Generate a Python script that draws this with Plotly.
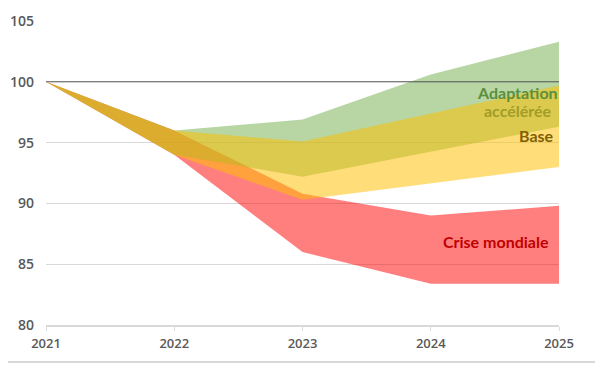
import plotly.graph_objects as go

years = [2021, 2022, 2023, 2024, 2025]
adapt_low = [100, 94.0, 92.2, 94.25, 96.3]
adapt_high = [100, 96.0, 96.9, 100.6, 103.3]
base_low = [100, 94.0, 90.3, 91.65, 93.0]
base_high = [100, 96.0, 95.1, 97.4, 99.7]
crise_low = [100, 94.0, 86.0, 83.4, 83.4]
crise_high = [100, 96.0, 90.8, 89.0, 89.8]

y_ticks = [80, 85, 90, 95, 100, 105]
x_ticks = [2021, 2022, 2023, 2024, 2025]

bands = [
    ("Crise mondiale", crise_low, crise_high, "rgba(255,0,0,0.5)"),
    ("Adaptation accélérée", adapt_low, adapt_high, "rgba(112,173,71,0.5)"),
    ("Base", base_low, base_high, "rgba(255,192,0,0.52)"),
]

fig = go.Figure()
for name, lo, hi, col in bands:
    fig.add_trace(go.Scatter(x=years, y=lo, mode="lines",
                             line=dict(width=0, color="rgba(0,0,0,0)"),
                             showlegend=False, hoverinfo="skip"))
    fig.add_trace(go.Scatter(x=years, y=hi, mode="lines", fill="tonexty",
                             fillcolor=col, line=dict(width=0, color="rgba(0,0,0,0)"),
                             name=name, showlegend=False))

tick_font = dict(family="Open Sans, sans-serif", size=13, color="#595959", weight=600)

fig.update_layout(
    width=595, height=359,
    margin=dict(l=37.5, r=43.5, t=13, b=42, autoexpand=False),
    paper_bgcolor="white", plot_bgcolor="white",
    showlegend=False,
    xaxis=dict(range=[2021, 2025], tickvals=x_ticks, ticktext=[str(v) for v in x_ticks],
               showgrid=False, zeroline=False, automargin=False,
               showline=True, linecolor="#d9d9d9", linewidth=2,
               ticks="outside", ticklen=4, tickcolor="#d9d9d9", tickwidth=1,
               tickfont=tick_font, ticklabelstandoff=1),
    yaxis=dict(range=[80, 105], tickvals=y_ticks, showgrid=True, gridcolor="#d9d9d9",
               gridwidth=1, zeroline=False, showline=False, ticks="", automargin=False,
               tickfont=dict(family="Open Sans, sans-serif", size=14, color="#595959", weight=600),
               ticklabelstandoff=11),
)

fig.add_shape(type="line", xref="paper", yref="y", x0=0, x1=1, y0=100, y1=100,
              line=dict(color="#595959", width=1), layer="above")
fig.add_shape(type="line", xref="paper", yref="paper", x0=-0.0827, x1=1.0788,
              y0=-0.1217, y1=-0.1217, line=dict(color="#d9d9d9", width=2))

lab_font = "Lato, sans-serif"
fig.add_annotation(x=2024.68, y=99.15, text="Adaptation", showarrow=False,
                   font=dict(family=lab_font, size=16, color="#5b8f3c", weight="bold"))
fig.add_annotation(x=2024.68, y=97.6, text="accélérée", showarrow=False,
                   font=dict(family=lab_font, size=16, color="#a19d26", weight="bold"))
fig.add_annotation(x=2024.825, y=95.6, text="Base", showarrow=False,
                   font=dict(family=lab_font, size=16, color="#7f6000", weight="bold"))
fig.add_annotation(x=2024.506, y=86.9, text="Crise mondiale", showarrow=False,
                   font=dict(family=lab_font, size=16, color="#c00000", weight="bold"))

fig.write_html("out.html")
